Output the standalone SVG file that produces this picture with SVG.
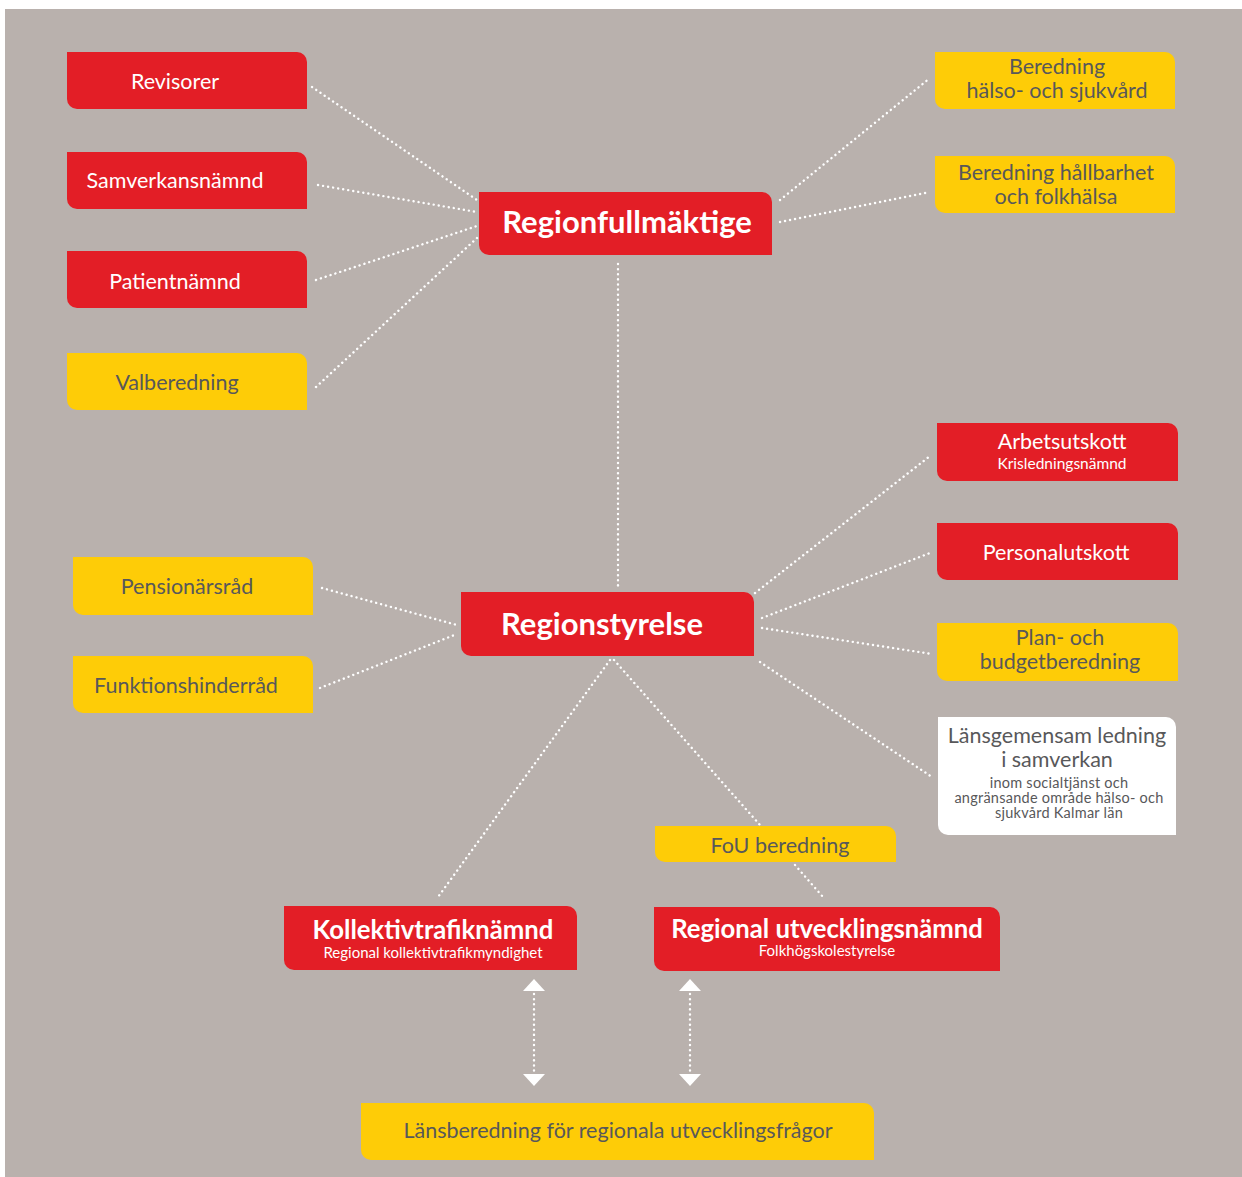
<svg xmlns="http://www.w3.org/2000/svg" width="1242" height="1177" viewBox="0 0 1242 1177">
<defs>
<style>
.red{fill:#E31E26}
.yel{fill:#FECC07}
.wht{fill:#FFFFFF}
.t{font-family:Lato,"Noto Sans","Liberation Sans",sans-serif;text-anchor:middle}
.w{fill:#FFFFFF}
.g{fill:#58585A}
.m{font-size:21.5px}
.s{font-size:15px}
.xs{font-size:14.5px;letter-spacing:0.25px}
.b{font-size:31px;font-weight:700}
.b2{font-size:25.7px;font-weight:700}
.dot{stroke:#FFFFFF;stroke-width:2.4;stroke-linecap:round;stroke-dasharray:0.1 5;fill:none}
.ah{fill:#FFFFFF}
</style>
</defs>
<rect x="0" y="0" width="1242" height="1177" fill="#FFFFFF"/>
<rect x="5" y="9" width="1237" height="1168" fill="#B9B1AD"/>

<g id="connectors">
<line class="dot" x1="312" y1="87" x2="477" y2="200"/>
<line class="dot" x1="318" y1="185" x2="477" y2="212"/>
<line class="dot" x1="316" y1="280" x2="477" y2="226"/>
<line class="dot" x1="316" y1="387" x2="477" y2="238"/>
<line class="dot" x1="780" y1="200" x2="930" y2="78"/>
<line class="dot" x1="780" y1="222" x2="930" y2="192"/>
<line class="dot" x1="618" y1="264" x2="618" y2="588"/>
<line class="dot" x1="322" y1="588" x2="457" y2="625"/>
<line class="dot" x1="320" y1="688" x2="457" y2="634"/>
<line class="dot" x1="755" y1="593" x2="930" y2="456"/>
<line class="dot" x1="762" y1="618" x2="930" y2="553"/>
<line class="dot" x1="762" y1="628" x2="932" y2="654"/>
<line class="dot" x1="760" y1="662" x2="932" y2="777"/>
<line class="dot" x1="610" y1="660" x2="438" y2="897"/>
<line class="dot" x1="614" y1="660" x2="760" y2="825"/>
<line class="dot" x1="795" y1="865" x2="823" y2="897"/>
<line class="dot" x1="534" y1="994" x2="534" y2="1071"/>
<line class="dot" x1="690" y1="994" x2="690" y2="1071"/>
<polygon class="ah" points="534,979 523,991 545,991"/>
<polygon class="ah" points="523,1074 545,1074 534,1086"/>
<polygon class="ah" points="690,979 679,991 701,991"/>
<polygon class="ah" points="679,1074 701,1074 690,1086"/>
</g>

<g id="revisorer"><path class="red" d="M67 52 H297 A10 10 0 0 1 307 62 V109 H77 A10 10 0 0 1 67 99 Z"/><text class="t w m" x="175" y="89">Revisorer</text></g>
<g id="samverkansnamnd"><path class="red" d="M67 152 H297 A10 10 0 0 1 307 162 V209 H77 A10 10 0 0 1 67 199 Z"/><text class="t w m" x="175" y="188">Samverkansnämnd</text></g>
<g id="patientnamnd"><path class="red" d="M67 251 H297 A10 10 0 0 1 307 261 V308 H77 A10 10 0 0 1 67 298 Z"/><text class="t w m" x="175" y="289">Patientnämnd</text></g>
<g id="valberedning"><path class="yel" d="M67 353 H297 A10 10 0 0 1 307 363 V410 H77 A10 10 0 0 1 67 400 Z"/><text class="t g m" x="177" y="390">Valberedning</text></g>

<g id="regionfullmaktige"><path class="red" d="M479 192 H762 A10 10 0 0 1 772 202 V255 H489 A10 10 0 0 1 479 245 Z"/><text class="t w b" x="627" y="233">Regionfullmäktige</text></g>

<g id="beredning-halso"><path class="yel" d="M935 52 H1165 A10 10 0 0 1 1175 62 V109 H945 A10 10 0 0 1 935 99 Z"/><text class="t g m" x="1057" y="74">Beredning</text><text class="t g m" x="1057" y="98">hälso- och sjukvård</text></g>
<g id="beredning-hallbarhet"><path class="yel" d="M935 156 H1165 A10 10 0 0 1 1175 166 V213 H945 A10 10 0 0 1 935 203 Z"/><text class="t g m" x="1056" y="180">Beredning hållbarhet</text><text class="t g m" x="1056" y="204">och folkhälsa</text></g>

<g id="arbetsutskott"><path class="red" d="M937 423 H1168 A10 10 0 0 1 1178 433 V481 H947 A10 10 0 0 1 937 471 Z"/><text class="t w m" x="1062" y="449">Arbetsutskott</text><text class="t w" x="1062" y="469" font-size="15.5">Krisledningsnämnd</text></g>
<g id="personalutskott"><path class="red" d="M937 523 H1168 A10 10 0 0 1 1178 533 V580 H947 A10 10 0 0 1 937 570 Z"/><text class="t w m" x="1056" y="560">Personalutskott</text></g>
<g id="plan-budget"><path class="yel" d="M937 623 H1168 A10 10 0 0 1 1178 633 V681 H947 A10 10 0 0 1 937 671 Z"/><text class="t g m" x="1060" y="645">Plan- och</text><text class="t g m" x="1060" y="669">budgetberedning</text></g>
<g id="lansgemensam"><path class="wht" d="M938 717 H1166 A10 10 0 0 1 1176 727 V835 H948 A10 10 0 0 1 938 825 Z"/><text class="t g m" x="1057" y="743">Länsgemensam ledning</text><text class="t g m" x="1057" y="767">i samverkan</text><text class="t g xs" x="1059" y="788">inom socialtjänst och</text><text class="t g xs" x="1059" y="803">angränsande område hälso- och</text><text class="t g xs" x="1059" y="818">sjukvård Kalmar län</text></g>

<g id="pensionarsrad"><path class="yel" d="M73 557 H303 A10 10 0 0 1 313 567 V615 H83 A10 10 0 0 1 73 605 Z"/><text class="t g m" x="187" y="594">Pensionärsråd</text></g>
<g id="funktionshinderrad"><path class="yel" d="M73 656 H303 A10 10 0 0 1 313 666 V713 H83 A10 10 0 0 1 73 703 Z"/><text class="t g m" x="186" y="693">Funktionshinderråd</text></g>

<g id="regionstyrelse"><path class="red" d="M461 592 H744 A10 10 0 0 1 754 602 V656 H471 A10 10 0 0 1 461 646 Z"/><text class="t w b" x="602" y="635">Regionstyrelse</text></g>

<g id="fou-beredning"><path class="yel" d="M655 826 H886 A10 10 0 0 1 896 836 V862 H665 A10 10 0 0 1 655 852 Z"/><text class="t g m" x="780" y="853">FoU beredning</text></g>

<g id="kollektivtrafiknamnd"><path class="red" d="M284 906 H567 A10 10 0 0 1 577 916 V970 H294 A10 10 0 0 1 284 960 Z"/><text class="t w b2" x="433" y="939">Kollektivtrafiknämnd</text><text class="t w s" x="433" y="958">Regional kollektivtrafikmyndighet</text></g>
<g id="regional-utvecklingsnamnd"><path class="red" d="M654 907 H990 A10 10 0 0 1 1000 917 V971 H664 A10 10 0 0 1 654 961 Z"/><text class="t w b2" x="827" y="938">Regional utvecklingsnämnd</text><text class="t w s" x="827" y="956">Folkhögskolestyrelse</text></g>

<g id="lansberedning"><path class="yel" d="M361 1103 H864 A10 10 0 0 1 874 1113 V1160 H371 A10 10 0 0 1 361 1150 Z"/><text class="t g m" x="618" y="1138">Länsberedning för regionala utvecklingsfrågor</text></g>
</svg>
